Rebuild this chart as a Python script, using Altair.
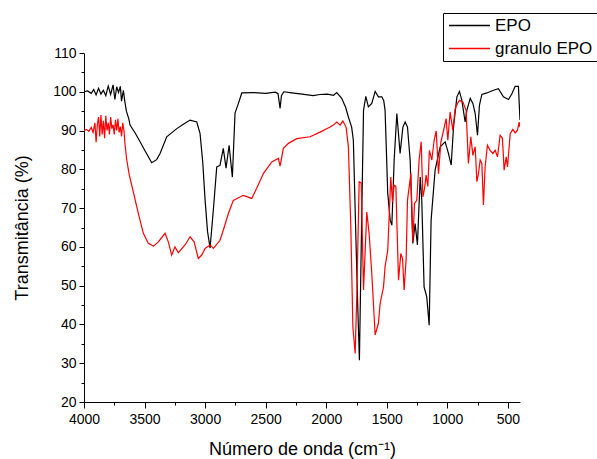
import altair as alt
import pandas as pd

epo_wn = [4000,3970,3940,3920,3900,3880,3860,3840,3820,3800,3780,3760,3745,3730,3715,3700,3690,3675,3665,3650,
          3630,3620,3580,3537,3500,3441,3400,3372,3317,3234,3180,3124,3069,3042,3020,3000,2980,2959,2932,2904,
          2877,2850,2827,2802,2775,2753,2725,2697,2600,2500,2420,2398,2381,2370,2350,2300,2200,2108,2051,1990,
          1940,1913,1872,1840,1817,1790,1776,1753,1740,1726,1706,1692,1673,1652,1624,1596,1569,1541,1525,1514,
          1492,1472,1458,1439,1417,1390,1367,1348,1329,1307,1285,1266,1247,1224,1211,1192,1170,1150,1134,1101,
          1059,1018,991,968,949,921,900,880,853,839,811,789,770,751,735,715,674,619,578,537,
          495,467,440,413,400]
epo_t = [100.0,100.2,99.6,100.6,99.2,100.9,99.4,100.4,99.0,101.5,99.3,101.8,98.0,101.3,99.8,101.4,97.6,100.4,97.9,95.0,
         93.0,91.4,89.5,87.1,85.0,81.7,82.5,84.1,88.4,90.5,91.6,92.7,92.2,89.3,82.0,72.0,64.0,59.7,69.5,80.6,
         81.0,85.4,80.3,86.2,78.0,94.5,97.0,99.7,99.8,99.6,99.9,99.5,95.7,99.0,100.0,99.8,99.4,99.0,99.3,99.4,
         99.1,99.8,98.3,96.0,93.5,90.9,87.5,60.0,45.0,30.8,69.5,95.2,98.8,96.1,97.0,100.1,98.7,98.7,97.7,95.2,
         73.8,66.9,65.6,82.4,94.4,84.1,90.9,92.2,90.9,82.4,60.9,66.0,60.5,78.0,72.0,49.7,47.1,39.8,66.9,79.8,
         85.8,87.1,84.1,81.1,90.9,98.7,100.1,97.8,92.2,95.2,98.3,97.0,94.4,88.8,96.5,99.3,99.7,100.4,100.8,98.7,
         98.0,99.5,101.4,101.4,92.7]

gran_wn = [4000,3980,3960,3940,3925,3910,3900,3890,3880,3870,3860,3850,3840,3830,3820,3810,3800,3790,3780,3770,
           3760,3750,3740,3730,3720,3710,3700,3690,3680,3670,3660,3647,3626,3593,3551,3510,3469,3427,3386,3331,
           3304,3276,3249,3221,3166,3124,3091,3056,3028,3000,2959,2932,2877,2850,2808,2767,2685,2615,2574,2519,
           2450,2395,2381,2354,2312,2243,2133,2051,1968,1941,1913,1885,1863,1836,1817,1797,1780,1761,1747,1728,
           1711,1692,1665,1646,1624,1596,1569,1555,1527,1514,1492,1478,1467,1453,1439,1425,1403,1384,1370,1357,
           1340,1329,1301,1285,1271,1252,1233,1216,1202,1189,1175,1161,1148,1128,1109,1092,1073,1053,1032,1010,
           996,977,955,935,916,900,872,845,826,806,789,770,756,743,729,715,702,688,669,647,
           624,605,586,564,545,531,514,503,481,459,440,421,407,400]
gran_t = [90.0,90.3,89.8,90.8,89.5,92.0,87.0,91.5,93.5,88.5,94.0,89.0,92.5,88.0,93.8,90.0,92.0,89.0,93.5,90.5,
          91.5,89.0,92.8,90.0,93.0,89.5,91.0,88.5,92.0,90.0,86.0,82.4,78.5,74.2,68.6,63.5,60.9,60.2,61.3,63.5,
          61.3,57.9,60.0,58.5,60.5,62.6,61.3,57.0,57.9,59.6,60.5,59.6,61.7,64.3,68.6,72.0,73.3,72.5,75.1,78.9,
          81.9,82.8,80.8,85.4,86.7,87.9,88.4,89.6,90.9,91.4,92.2,91.4,92.5,90.9,85.8,65.2,39.4,32.5,48.0,76.8,
          76.5,48.9,69.0,63.5,53.2,37.3,40.3,45.4,49.7,54.9,59.2,69.5,78.0,71.6,75.9,75.6,51.4,58.3,56.9,48.9,
          56.9,72.0,78.9,61.3,71.2,72.0,82.4,87.1,72.9,74.9,78.5,75.6,84.9,82.4,87.5,89.9,78.9,87.1,89.9,93.1,
          87.5,94.8,90.1,95.7,97.0,97.8,97.4,95.2,81.5,88.4,83.6,85.8,76.8,78.9,82.4,81.5,70.8,80.6,86.2,84.9,
          84.1,84.9,83.2,88.8,88.0,79.8,83.2,80.6,89.2,90.3,89.4,90.1,92.2,90.9]

series_names = ["EPO", "granulo EPO"]
series_colors = ["#000000", "#ff0000"]
x_ticks = list(range(4000, 499, -250))
y_ticks = list(range(20, 111, 5))

df = pd.concat([
    pd.DataFrame({"wn": epo_wn, "t": epo_t, "s": series_names[0]}),
    pd.DataFrame({"wn": gran_wn, "t": gran_t, "s": series_names[1]}),
])

FONT = "Liberation Sans"

chart = alt.Chart(df).mark_line(strokeWidth=1.2, clip=True).encode(
    x=alt.X("wn:Q",
            scale=alt.Scale(domain=[400, 4000], reverse=True, nice=False, zero=False),
            axis=alt.Axis(values=x_ticks, title="Número de onda (cm⁻¹)", format="d",
                          labelExpr="datum.value % 500 === 0 ? datum.label : ''",
                          tickSize={"condition": {"test": "datum.value % 500 === 0", "value": 6}, "value": 3},
                          labelPadding=4, titlePadding=14, labelFlush=False, labelOverlap=False)),
    y=alt.Y("t:Q",
            scale=alt.Scale(domain=[20, 110], nice=False, zero=False),
            axis=alt.Axis(values=y_ticks, title="Transmitância (%)",
                          labelExpr="datum.value % 10 === 0 ? datum.label : ''",
                          tickSize={"condition": {"test": "datum.value % 10 === 0", "value": 5}, "value": 3},
                          labelPadding=3, titlePadding=21, labelFlush=False, labelOverlap=False)),
    color=alt.Color("s:N", scale=alt.Scale(domain=series_names, range=series_colors),
                    legend=alt.Legend(title=None, orient="none", legendX=359, legendY=-40,
                                      strokeColor="#000000", fillColor="#ffffff", padding=4,
                                      symbolType="M-4,0H4", symbolSize=105, symbolStrokeWidth=1.5,
                                      symbolOffset=14, labelOffset=17,
                                      labelFontSize=17, labelFont=FONT, labelColor="#000000",
                                      rowPadding=5, cornerRadius=0)),
    order=alt.Order("wn:Q"),
).properties(
    width=436, height=349,
    autosize=alt.AutoSizeParams(type="none"),
    padding={"left": 84, "top": 53, "right": 77, "bottom": 57},
    background="white",
).configure_view(stroke=None).configure_axis(
    grid=False, domainColor="#000000", tickColor="#000000", labelColor="#000000",
    titleColor="#000000", labelFont=FONT, titleFont=FONT, labelFontSize=14,
    titleFontSize=18, titleFontWeight="normal", domainWidth=1, tickWidth=1,
)

chart.save("out.html", embed_options={"renderer": "svg", "actions": False})
